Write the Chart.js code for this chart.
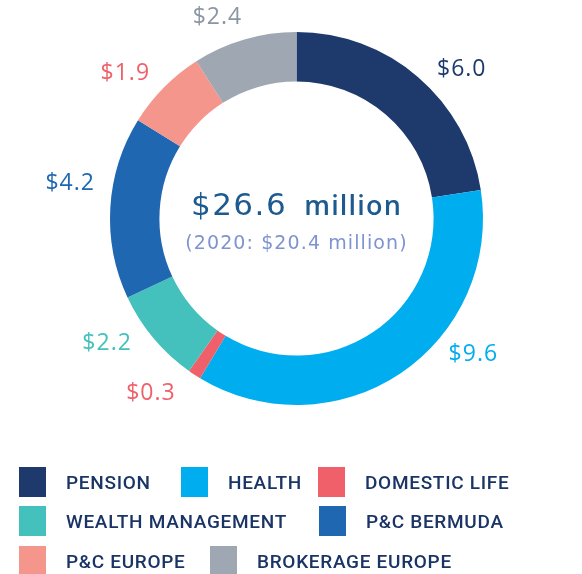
<!DOCTYPE html>
<html>
<head>
<meta charset="utf-8">
<script src="https://cdn.jsdelivr.net/npm/chart.js@4.4.1/dist/chart.umd.min.js"></script>
<style>
  html, body { margin: 0; padding: 0; background: #fff; }
  #wrap { position: relative; width: 582px; height: 574px; overflow: hidden; }
  #chartBox { position: absolute; left: 0; top: 0; width: 582px; height: 440px; }
  #leyenda { position: absolute; left: 0; top: 0; width: 582px; height: 574px; pointer-events: none; }
  .item { position: absolute; display: flex; align-items: center; }
  .cuadro { width: 27px; height: 30px; margin-right: 20px; }
  .texto { font-family: Roboto, sans-serif; font-weight: 500; font-size: 19px;
           letter-spacing: 0.7px; color: #1a3466; white-space: nowrap; }
</style>
</head>
<body>
<div id="wrap">
  <div id="chartBox"><canvas id="myChart"></canvas></div>
  <div id="leyenda"></div>
</div>
<script>
// datos del gráfico
const categorias = ['PENSION', 'HEALTH', 'DOMESTIC LIFE', 'WEALTH MANAGEMENT', 'P&C BERMUDA', 'P&C EUROPE', 'BROKERAGE EUROPE'];
const valores = [6.0, 9.6, 0.3, 2.2, 4.2, 1.9, 2.4];
const etiquetas = ['$6.0', '$9.6', '$0.3', '$2.2', '$4.2', '$1.9', '$2.4'];
const colores = ['#1e3a6d', '#00aeef', '#f0606a', '#44c1bc', '#1f67b1', '#f4968c', '#9ea7b2'];
const coloresEtiqueta = ['#1e3a6d', '#00aeef', '#f0606a', '#44c1bc', '#1f67b1', '#f0606a', '#8c96a2'];
const totalTexto = '$26.6';
const totalUnidad = 'million';
const anteriorTexto = '(2020: $20.4 million)';

// desplazamiento angular de cada etiqueta respecto al centro del arco (grados)
const desvioEtiqueta = [7, -19, 7, 7, 6, -4, -5];
const distEtiqueta = [1.2, 1.19, 1.21, 1.21, 1.23, 1.21, 1.17];

// etiquetas de valor alrededor del anillo
const pluginEtiquetas = {
  id: 'etiquetas',
  afterDatasetsDraw(chart) {
    const ctx = chart.ctx;
    const arcos = chart.getDatasetMeta(0).data;
    ctx.save();
    ctx.font = '23px "Open Sans", sans-serif';
    ctx.letterSpacing = '1px';
    ctx.textAlign = 'center';
    ctx.textBaseline = 'middle';
    arcos.forEach((arco, i) => {
      const medio = (arco.startAngle + arco.endAngle) / 2 + desvioEtiqueta[i] * Math.PI / 180;
      const r = arco.outerRadius * distEtiqueta[i];
      const x = arco.x + Math.cos(medio) * r;
      const y = arco.y + Math.sin(medio) * r + 2;
      ctx.fillStyle = coloresEtiqueta[i];
      ctx.fillText(etiquetas[i], x, y);
    });
    ctx.restore();
  }
};

// texto central
const pluginCentro = {
  id: 'centro',
  afterDraw(chart) {
    const ctx = chart.ctx;
    const arco = chart.getDatasetMeta(0).data[0];
    const cx = arco.x, cy = arco.y;
    const f1 = '31px "DejaVu Sans", sans-serif';
    const f2 = '600 27px "Open Sans", sans-serif';
    ctx.save();
    ctx.textBaseline = 'alphabetic';
    ctx.fillStyle = '#1d5a90';
    ctx.font = f1;
    ctx.letterSpacing = '1.5px';
    const w1 = ctx.measureText(totalTexto).width;
    ctx.font = f2;
    ctx.letterSpacing = '1.2px';
    const w2 = ctx.measureText(totalUnidad).width;
    const hueco = 17;
    const x0 = cx - (w1 + hueco + w2) / 2;
    ctx.textAlign = 'left';
    ctx.font = f1;
    ctx.letterSpacing = '1.5px';
    ctx.fillText(totalTexto, x0, cy - 4);
    ctx.font = f2;
    ctx.letterSpacing = '1.2px';
    ctx.fillText(totalUnidad, x0 + w1 + hueco, cy - 4);
    ctx.textAlign = 'center';
    ctx.fillStyle = '#7e93cf';
    ctx.font = '19px "DejaVu Sans", sans-serif';
    ctx.letterSpacing = '1.1px';
    ctx.fillText(anteriorTexto, cx, cy + 30);
    ctx.restore();
  }
};

new Chart(document.getElementById('myChart').getContext('2d'), {
  type: 'doughnut',
  data: {
    labels: categorias,
    datasets: [{
      data: valores,
      backgroundColor: colores,
      borderWidth: 0
    }]
  },
  options: {
    responsive: true,
    maintainAspectRatio: false,
    animation: false,
    cutout: '73.5%',
    layout: { padding: { top: 32, bottom: 35, left: 110, right: 99 } },
    plugins: {
      legend: { display: false },
      tooltip: { enabled: false }
    }
  },
  plugins: [pluginEtiquetas, pluginCentro]
});

// leyenda en HTML
const filasLeyenda = [[0, 1, 2], [3, 4], [5, 6]];
const columnas = [[19, 181, 318], [19, 319], [19, 210]];
const filasY = [467, 506, 546];
const leyenda = document.getElementById('leyenda');
filasLeyenda.forEach((fila, f) => {
  fila.forEach((idx, c) => {
    const el = document.createElement('div');
    el.className = 'item';
    el.style.left = columnas[f][c] + 'px';
    el.style.top = filasY[f] + 'px';
    el.innerHTML = '<div class="cuadro" style="background:' + colores[idx] + '"></div>' +
                   '<span class="texto"></span>';
    el.querySelector('.texto').textContent = categorias[idx];
    leyenda.appendChild(el);
  });
});
</script>
</body>
</html>
